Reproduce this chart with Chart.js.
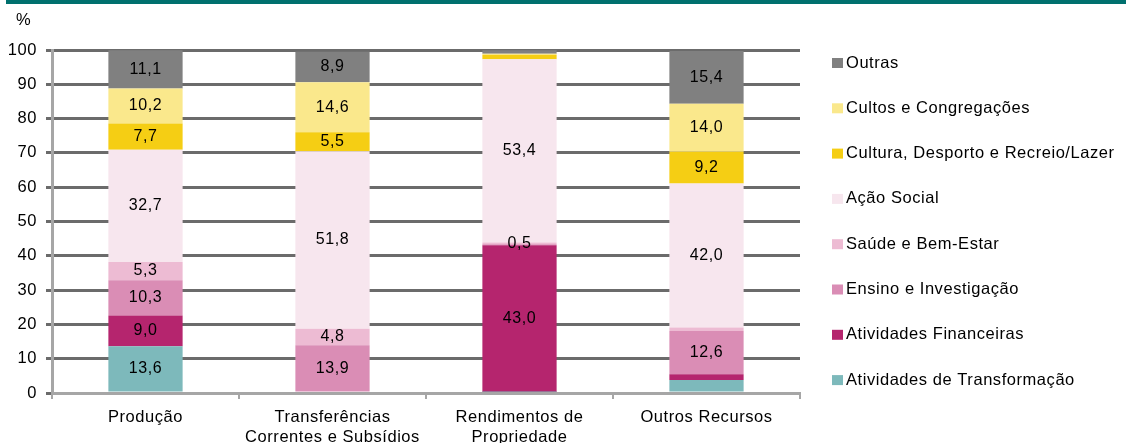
<!DOCTYPE html>
<html><head><meta charset="utf-8">
<script src="https://cdn.jsdelivr.net/npm/chart.js@4.4.0/dist/chart.umd.min.js"></script>
<style>html,body{margin:0;padding:0;background:#fff;overflow:hidden}</style>
</head><body>
<canvas id="c" width="1126" height="443" style="display:block;width:1126px;height:443px"></canvas>
<script>
// ---- data (stack order: bottom to top) ----
const categories = ['Produção', ['Transferências', 'Correntes e Subsídios'], ['Rendimentos de', 'Propriedade'], 'Outros Recursos'];
const seriesNames = ['Atividades de Transformação', 'Atividades Financeiras', 'Ensino e Investigação', 'Saúde e Bem-Estar', 'Ação Social', 'Cultura, Desporto e Recreio/Lazer', 'Cultos e Congregações', 'Outras'];
const atividadesTransformacao = [13.6, 0, 0.1, 3.8];
const atividadesFinanceiras   = [9.0, 0, 43.0, 1.7];
const ensinoInvestigacao      = [10.3, 13.9, 0.3, 12.6];
const saudeBemEstar           = [5.3, 4.8, 0.5, 1.0];
const acaoSocial              = [32.7, 51.8, 53.4, 42.0];
const culturaDesporto         = [7.7, 5.5, 1.3, 9.2];
const cultosCongregacoes      = [10.2, 14.6, 0.3, 14.0];
const outras                  = [11.1, 8.9, 1.0, 15.4];
const yTicks = [0, 10, 20, 30, 40, 50, 60, 70, 80, 90, 100];
// labels that are printed although small: [series index, category index]
const extraLabels = [[3, 2]];
const labelThreshold = 4.5;

const seriesValues = [atividadesTransformacao, atividadesFinanceiras, ensinoInvestigacao, saudeBemEstar, acaoSocial, culturaDesporto, cultosCongregacoes, outras];
const seriesColors = ['#7db9bb', '#b5256e', '#da8db5', '#edbbd3', '#f7e6ee', '#f5ce14', '#fae88c', '#808080'];

const FONT = "'Liberation Sans', Arial, sans-serif";
const SPACING = '0.55px';
const AREA = {left: 52, right: 800, top: 50, bottom: 393};

const datasets = seriesNames.map((n, i) => ({
  label: n,
  data: seriesValues[i],
  backgroundColor: seriesColors[i],
  borderWidth: 0,
  categoryPercentage: 1.0,
  barPercentage: 0.397
}));

const decor = {
  id: 'decor',
  beforeInit(chart) { chart.ctx.letterSpacing = SPACING; },
  beforeDraw(chart) {
    const ctx = chart.ctx;
    ctx.letterSpacing = SPACING;
    ctx.save();
    ctx.fillStyle = '#00706e';
    ctx.fillRect(6, 0, chart.width - 6, 4);
    ctx.fillStyle = '#000';
    ctx.font = '16.5px ' + FONT;
    ctx.textBaseline = 'middle';
    ctx.textAlign = 'left';
    ctx.fillText('%', 16, 20);
    ctx.restore();
  },
  afterDatasetsDraw(chart) {
    const ctx = chart.ctx;
    ctx.save();
    ctx.font = '16px ' + FONT;
    ctx.fillStyle = '#000';
    ctx.textAlign = 'center';
    ctx.textBaseline = 'middle';
    chart.data.datasets.forEach((ds, di) => {
      const meta = chart.getDatasetMeta(di);
      meta.data.forEach((bar, ci) => {
        const v = ds.data[ci];
        const extra = extraLabels.some(e => e[0] === di && e[1] === ci);
        if (v >= labelThreshold || extra) {
          const y = (bar.y + bar.base) / 2;
          ctx.fillText(v.toFixed(1).replace('.', ','), bar.x, y);
        }
      });
    });
    ctx.restore();
  },
  afterDraw(chart) {
    const ctx = chart.ctx;
    ctx.save();
    ctx.font = '16.5px ' + FONT;
    ctx.textBaseline = 'middle';
    ctx.textAlign = 'left';
    const n = chart.data.datasets.length;
    for (let k = 0; k < n; k++) {
      const di = n - 1 - k;
      const ds = chart.data.datasets[di];
      const cy = 63 + k * 45.3;
      ctx.fillStyle = ds.backgroundColor;
      ctx.fillRect(832, cy - 5, 11, 10);
      ctx.fillStyle = '#000';
      ctx.fillText(ds.label, 846, cy);
    }
    ctx.restore();
  }
};

new Chart(document.getElementById('c'), {
  type: 'bar',
  data: {labels: categories, datasets},
  options: {
    responsive: false,
    devicePixelRatio: 1,
    animation: false,
    layout: {padding: {top: AREA.top, right: 1126 - AREA.right, left: 0, bottom: 0}},
    plugins: {legend: {display: false}, tooltip: {enabled: false}, title: {display: false}},
    scales: {
      x: {
        stacked: true,
        grid: {display: true, offset: true, drawOnChartArea: false, drawTicks: true, tickLength: 6, color: '#a6a6a6', lineWidth: 2},
        border: {display: true, color: '#a6a6a6', width: 3, z: 1},
        ticks: {color: '#000', font: {family: FONT, size: 16.5, lineHeight: 1.2}, padding: 9, maxRotation: 0, autoSkip: false},
        afterFit(s) { s.height = 443 - AREA.bottom; }
      },
      y: {
        stacked: true,
        min: 0, max: 100,
        afterBuildTicks(s) { s.ticks = yTicks.map(v => ({value: v})); },
        grid: {color: '#6b6b6b', lineWidth: 3, drawTicks: true, tickLength: 6},
        border: {display: true, color: '#a6a6a6', width: 3},
        ticks: {color: '#000', font: {family: FONT, size: 16.5}, padding: 9},
        afterFit(s) { s.width = AREA.left; }
      }
    }
  },
  plugins: [decor]
});
</script>
</body></html>
